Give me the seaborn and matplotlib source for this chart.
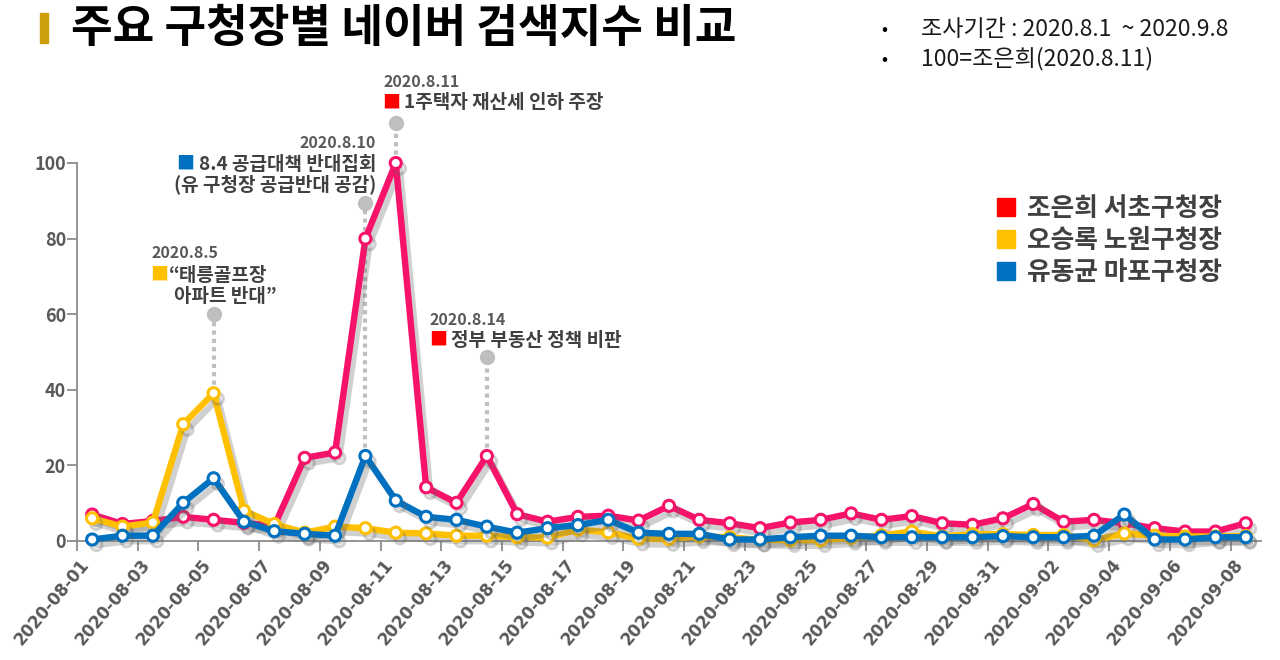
import numpy as np
import pandas as pd
import matplotlib
matplotlib.use('Agg')
import matplotlib.pyplot as plt
import matplotlib.patheffects as pe
import matplotlib.transforms as mtrans
from matplotlib.lines import Line2D
from matplotlib.patches import Rectangle
import seaborn as sns

# ---- data ----
dates = pd.date_range('2020-08-01', '2020-09-08', freq='D')
date_labels = [d.strftime('%Y-%m-%d') for d in dates]

cho = [7.0, 4.5, 5.3, 6.4, 5.6, 4.8, 4.0, 22.0, 23.4, 80.0,
       100.0, 14.2, 10.1, 22.5, 7.1, 5.1, 6.4, 6.7, 5.4, 9.3,
       5.6, 4.7, 3.4, 4.9, 5.6, 7.3, 5.6, 6.6, 4.7, 4.3, 6.0,
       9.8, 5.1, 5.6, 4.7, 3.4, 2.5, 2.5, 4.7]
oh = [6.0, 3.8, 4.9, 30.9, 39.1, 8.0, 4.5, 2.2, 3.8, 3.4,
      2.2, 2.0, 1.4, 1.4, 1.0, 0.9, 3.0, 2.3, 0.6, 0.5,
      1.2, 1.0, 0.3, 0.2, 0.2, 0.8, 1.5, 2.5, 1.2, 1.8, 1.8,
      1.6, 1.6, 0.2, 2.0, 1.4, 1.2, 1.2, 1.3]
yoo = [0.4, 1.4, 1.4, 10.1, 16.6, 5.1, 2.6, 1.9, 1.4, 22.5,
       10.7, 6.4, 5.6, 3.8, 2.2, 3.4, 4.2, 5.6, 2.2, 1.9,
       1.9, 0.4, 0.4, 1.0, 1.4, 1.4, 1.0, 1.0, 1.0, 1.0, 1.3,
       1.0, 1.0, 1.4, 7.0, 0.4, 0.4, 1.0, 1.0]

names = ['조은희 서초구청장', '오승록 노원구청장', '유동균 마포구청장']
line_colors = ['#F7126A', '#FFC000', '#0070C0']
legend_colors = ['#FF0000', '#FFC000', '#0070C0']

df = pd.DataFrame({'idx': np.arange(len(dates)), 'date': date_labels,
                   names[0]: cho, names[1]: oh, names[2]: yoo})
long = df.melt(id_vars=['idx', 'date'], var_name='name', value_name='value')

# annotations: (day index, series, top of dotted line)
notes = [(4, oh, 60), (9, yoo, 89.5), (10, cho, 110.5), (13, cho, 48.7)]

sns.set_style('white')
plt.rcParams['font.family'] = ['Noto Sans CJK KR', 'DejaVu Sans']

fig = plt.figure(figsize=(12.8, 6.6), dpi=100)
ax = fig.add_axes([77 / 1280, 1 - 541 / 660, (1261 - 77) / 1280, (541 - 163) / 660])

# dotted annotation leaders
for i, series, top in notes:
    ax.plot([i, i], [series[i], top], ls=(0, (1, 1)), lw=3, color='#BFBFBF',
            zorder=1, clip_on=False)
    ax.plot([i], [top], 'o', ms=10, color='#BFBFBF', zorder=1, clip_on=False)

shadow = [pe.SimpleLineShadow(offset=(3, -4), shadow_color='#666666', alpha=0.3),
          pe.Normal()]
for k, (nm, col) in enumerate(zip(names, line_colors)):
    sub = long[long['name'] == nm]
    sns.lineplot(data=sub, x='idx', y='value', color=col, lw=4.6, marker='o',
                 markersize=8, markerfacecolor='white', markeredgecolor=col,
                 markeredgewidth=2.2, ax=ax, zorder=3 + k, clip_on=False,
                 path_effects=shadow)

ax.set_xlim(-0.5, len(dates) - 0.5)
ax.set_ylim(0, 100)
ax.set_xlabel('')
ax.set_ylabel('')

ax.set_xticks(np.arange(-0.5, len(dates), 2), minor=True)
ax.tick_params(axis='x', which='major', length=0, pad=5)
ax.tick_params(axis='x', which='minor', length=7, width=1.3, color='#8C8C8C',
               direction='out', bottom=True)
ax.tick_params(axis='y', length=7, width=1.3, color='#8C8C8C', direction='out',
               left=True, pad=1)

ax.set_yticks([0, 20, 40, 60, 80, 100])
ax.set_yticklabels(['0', '20', '40', '60', '80', '100'], fontsize=13,
                   fontweight='bold', color='#595959')
ax.set_xticks(np.arange(0, len(dates), 2))
ax.set_xticklabels(date_labels[::2], rotation=50, ha='right',
                   rotation_mode='anchor', fontsize=12, fontweight='bold',
                   color='#595959', family='DejaVu Sans')
# labels sit a little left of / below their category, as in the original
shift = mtrans.ScaledTranslation(-13 / 100, -8 / 100, fig.dpi_scale_trans)
for lab in ax.get_xticklabels():
    lab.set_transform(lab.get_transform() + shift)

for s in ['top', 'right']:
    ax.spines[s].set_visible(False)
for s in ['left', 'bottom']:
    ax.spines[s].set_color('#8C8C8C')
    ax.spines[s].set_linewidth(1.3)
ax.grid(False)

# legend
handles = [Line2D([], [], marker='s', ls='', ms=13, color=c) for c in legend_colors]
leg = fig.legend(handles, names, loc='upper left', bbox_to_anchor=(988 / 1280, 1 - 190 / 660),
                 frameon=False, prop={'size': 18.5, 'weight': 'bold'},
                 handletextpad=0.3, labelspacing=0.2, handlelength=1.0,
                 borderaxespad=0, borderpad=0.2)
for t in leg.get_texts():
    t.set_color('#404040')

def px(x, y):
    return x / 1280, 1 - y / 660

# title
fig.patches.append(Rectangle(px(40, 43), 8 / 1280, 30 / 660, transform=fig.transFigure,
                             color='#CC9E0E', zorder=5))
fig.text(*px(71, 29), '주요 구청장별 네이버 검색지수 비교', fontsize=32.6,
         fontweight='bold', va='center', ha='left', color='black')

# notes top right
fig.text(*px(881, 30), '•', fontsize=13, va='center', color='black')
fig.text(*px(921, 29), '조사기간 : 2020.8.1  ~ 2020.9.8', fontsize=16.6,
         va='center', color='#1a1a1a')
fig.text(*px(881, 60), '•', fontsize=13, va='center', color='black')
fig.text(*px(921, 59), '100=조은희(2020.8.11)', fontsize=16.6, va='center',
         color='#1a1a1a')

# annotation texts
ann_kw = dict(fontsize=11.5, fontweight='bold', color='#595959', va='center')
txt_kw = dict(fontsize=13.7, fontweight='bold', color='#404040', va='center')
sq_kw = dict(fontsize=13, va='center')

fig.text(*px(151, 253), '2020.8.5', **ann_kw)
fig.text(*px(150, 275), '■', color='#FFC000', **sq_kw)
fig.text(*px(169, 275), '“태릉골프장', **txt_kw)
fig.text(*px(174, 296), '아파트 반대”', **txt_kw)

fig.text(*px(376, 143), '2020.8.10', ha='right', **ann_kw)
fig.text(*px(176, 164), '■', color='#0070C0', **sq_kw)
fig.text(*px(376, 164), '8.4 공급대책 반대집회', ha='right', **txt_kw)
fig.text(*px(376, 184), '(유 구청장 공급반대 공감)', ha='right', **txt_kw)

fig.text(*px(383, 82), '2020.8.11', **ann_kw)
fig.text(*px(382, 103), '■', color='#FF0000', **sq_kw)
fig.text(*px(404, 103), '1주택자 재산세 인하 주장', **txt_kw)

fig.text(*px(430, 320), '2020.8.14', **ann_kw)
fig.text(*px(429, 340), '■', color='#FF0000', **sq_kw)
fig.text(*px(451, 340), '정부 부동산 정책 비판', **txt_kw)

fig.savefig('out.png', dpi=100, facecolor='white')
